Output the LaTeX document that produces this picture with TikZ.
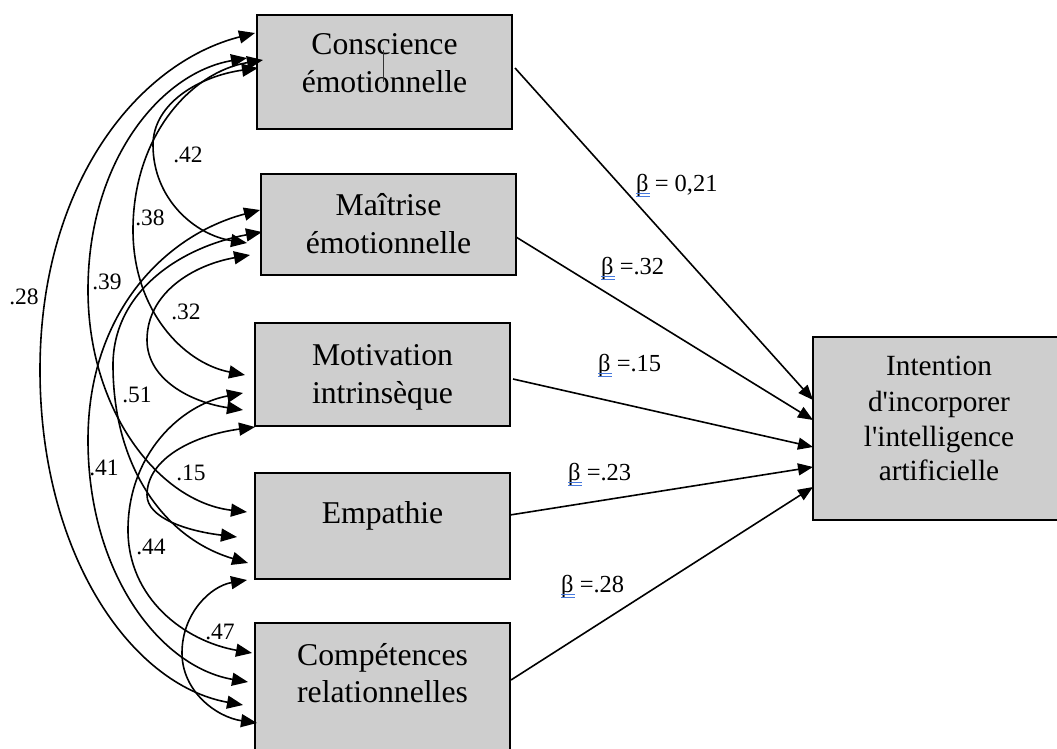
\documentclass[tikz,border=0pt]{standalone}
\usepackage{fontspec}
\setmainfont{Liberation Serif}
\usetikzlibrary{arrows.meta}
\definecolor{boxgray}{RGB}{206,206,206}
\definecolor{spellblue}{RGB}{70,120,220}
\begin{document}
\begin{tikzpicture}[x=1pt,y=-1pt,
  box/.style={draw=black, line width=1.6pt, fill=boxgray, inner sep=0pt, outer sep=0pt},
  boxtxt/.style={anchor=base, inner sep=0pt, font=\fontsize{31.7}{38}\selectfont},
  intxt/.style={anchor=base, inner sep=0pt, font=\fontsize{29.3}{35}\selectfont},
  corr/.style={inner sep=0pt, font=\fontsize{23.5}{27}\selectfont},
  betalbl/.style={anchor=base west, inner sep=0pt, font=\fontsize{24.5}{28}\selectfont},
  regarrow/.style={line width=1.6pt, -{Triangle[length=15pt,width=12pt]}},
  cov/.style={line width=1.6pt, {Triangle[length=16pt,width=13pt]}-{Triangle[length=16pt,width=13pt]}},
  spell/.style={spellblue, line width=0.9pt}
]
\useasboundingbox (0,0) rectangle (1057,749);
\clip (0,0) rectangle (1057,749);

% boxes
\node[box, minimum width=255pt, minimum height=114pt] (ce) at (384.5,72) {};
\node[box, minimum width=255pt, minimum height=101pt] (ma) at (388.5,224.5) {};
\node[box, minimum width=255pt, minimum height=103pt] (mo) at (382.5,374.5) {};
\node[box, minimum width=255pt, minimum height=106pt] (em) at (382.5,526) {};
\node[box, minimum width=255pt, minimum height=150pt] (co) at (382.5,698) {};
\node[box, minimum width=252pt, minimum height=183pt] (in) at (939,428.5) {};

% box texts
\node[boxtxt] (ceA) at (384.5,55) {Conscience};
\node[boxtxt] (ceB) at (384.5,93) {émotionnelle};
\node[boxtxt] (maA) at (388.5,215) {Maîtrise};
\node[boxtxt] (maB) at (388.5,253) {émotionnelle};
\node[boxtxt] (moA) at (382.5,365) {Motivation};
\node[boxtxt] (moB) at (382.5,403) {intrinsèque};
\node[boxtxt] (emA) at (382.5,523) {Empathie};
\node[boxtxt] (coA) at (382.5,665) {Compétences};
\node[boxtxt] (coB) at (382.5,702) {relationnelles};
\node[intxt] (inA) at (939,375) {Intention};
\node[intxt] (inB) at (939,411) {d\textquotesingle incorporer};
\node[intxt] (inC) at (939,446) {l\textquotesingle intelligence};
\node[intxt] (inD) at (939,480) {artificielle};

% small stray line in first box
\coordinate (st1) at (383,50);
\coordinate (st2) at (383,82);
\draw[line width=0.9pt, black!80] (st1) -- (st2);

% straight regression arrows
\coordinate (ceR) at (515,68);
\coordinate (maR) at (516,237);
\coordinate (moR) at (513,379);
\coordinate (emR) at (510,515);
\coordinate (coR) at (511,680);
\coordinate (in1) at (813,400);
\coordinate (in2) at (813,420);
\coordinate (in3) at (813,447);
\coordinate (in4) at (813,467);
\coordinate (in5) at (813,487);
\draw[regarrow] (ceR) -- (in1);
\draw[regarrow] (maR) -- (in2);
\draw[regarrow] (moR) -- (in3);
\draw[regarrow] (emR) -- (in4);
\draw[regarrow] (coR) -- (in5);

% beta labels
\node[betalbl] (b1) at (636,191) {β = 0,21};
\node[betalbl] (b2) at (601,274) {β =.32};
\node[betalbl] (b3) at (598,371) {β =.15};
\node[betalbl] (b4) at (568,480) {β =.23};
\node[betalbl] (b5) at (561,592) {β =.28};
\foreach \b in {b1,b2,b3,b4,b5}{
  \draw[spell] ([yshift=-2pt]\b.base west) -- ++(13.5,0);
  \draw[spell] ([yshift=-5.5pt]\b.base west) -- ++(13.5,0);
}

% covariance tips
\coordinate (ce28) at (255,33);
\coordinate (ce39) at (247,58);
\coordinate (ce38) at (263,60);
\coordinate (ce42) at (258,68);
\coordinate (ma41) at (260,210);
\coordinate (ma51) at (262,232);
\coordinate (ma42) at (247,243);
\coordinate (ma32) at (250,255);
\coordinate (mo38) at (245,375);
\coordinate (mo44) at (243,393);
\coordinate (mo32) at (243,410);
\coordinate (mo15) at (255,427);
\coordinate (em39) at (247,512);
\coordinate (em15) at (237,537);
\coordinate (em51) at (248,563);
\coordinate (em47) at (247,580);
\coordinate (co44) at (252,653);
\coordinate (co41) at (248,682);
\coordinate (co28) at (243,705);
\coordinate (co47) at (257,723);
% leftmost points of the arcs
\coordinate (k28) at (40,370);
\coordinate (k39) at (88,290);
\coordinate (k38) at (133,230);
\coordinate (k42) at (153,145);
\coordinate (k32) at (147,340);
\coordinate (k51) at (113,365);
\coordinate (k41) at (88,440);
\coordinate (k15) at (147,495);
\coordinate (k44) at (128,530);
\coordinate (k47) at (182,653);

\draw[cov] (ce28) .. controls +(-118,30) and +(0,-185) .. (k28) .. controls +(0,184) and +(-112,-20) .. (co28);
\draw[cov] (ce39) .. controls +(-87,15) and +(0,-128) .. (k39) .. controls +(0,122) and +(-87,-10) .. (em39);
\draw[cov] (ce38) .. controls +(-72,12) and +(0,-94) .. (k38) .. controls +(0,80) and +(-62,-12) .. (mo38);
\draw[cov] (ce42) .. controls +(-58,8) and +(0,-42) .. (k42) .. controls +(0,54) and +(-52,-8) .. (ma42);
\draw[cov] (ma32) .. controls +(-57,10) and +(0,-47) .. (k32) .. controls +(0,39) and +(-53,-8) .. (mo32);
\draw[cov] (ma51) .. controls +(-82,15) and +(0,-73) .. (k51) .. controls +(0,100) and +(-85,-25) .. (em51);
\draw[cov] (ma41) .. controls +(-95,25) and +(0,-127) .. (k41) .. controls +(0,133) and +(-88,-15) .. (co41);
\draw[cov] (mo15) .. controls +(-60,8) and +(0,-37) .. (k15) .. controls +(0,23) and +(-50,-6) .. (em15);
\draw[cov] (mo44) .. controls +(-63,12) and +(0,-75) .. (k44) .. controls +(0,68) and +(-68,-12) .. (co44);
\draw[cov] (em47) .. controls +(-36,6) and +(0,-40) .. (k47) .. controls +(0,38) and +(-41,-6) .. (co47);

% correlation labels
\node[corr] (r42) at (188,155) {.42};
\node[corr] (r38) at (150,218) {.38};
\node[corr] (r28) at (24,297) {.28};
\node[corr] (r39) at (107,282) {.39};
\node[corr] (r32) at (186,312) {.32};
\node[corr] (r51) at (137,395) {.51};
\node[corr] (r41) at (104,468) {.41};
\node[corr] (r15) at (191,473) {.15};
\node[corr] (r44) at (151,547) {.44};
\node[corr] (r47) at (220,632) {.47};
\end{tikzpicture}
\end{document}
